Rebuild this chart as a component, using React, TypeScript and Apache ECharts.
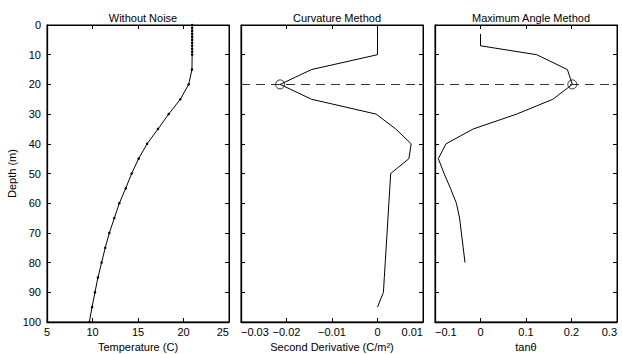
import React, { useEffect, useRef } from "react";
import * as echarts from "echarts";

const depth1 = [0, 1, 2, 3, 4, 5, 6, 7, 8, 9, 10, 15, 20, 25, 30, 35, 40, 45, 50, 55, 60, 65, 70, 75, 80, 85, 90, 95, 100];
const temperature = [20.95, 20.95, 20.95, 20.95, 20.95, 20.95, 20.95, 20.95, 20.95, 20.95, 20.95, 20.93, 20.57, 19.65, 18.37, 17.2, 16.0, 15.07, 14.3, 13.65, 12.95, 12.4, 11.85, 11.4, 11.0, 10.6, 10.27, 9.95, 9.65];

const depth2 = [0, 5, 10, 15, 20, 25, 30, 35, 40, 45, 50, 55, 60, 65, 70, 75, 80, 85, 90, 95];
const secondDeriv = [0, 0, 0, -0.0145, -0.0214, -0.0145, -0.0003, 0.004, 0.0074, 0.0069, 0.0029, 0.0027, 0.0025, 0.0023, 0.0021, 0.0019, 0.0017, 0.0015, 0.0013, 0.0];

const depth3 = [3, 7, 10, 15, 20, 25, 30, 35, 40, 45, 50, 55, 60, 65, 70, 75, 80];
const tanTheta = [0, 0, 0.1235, 0.191, 0.2018, 0.159, 0.0795, -0.0158, -0.0758, -0.0927, -0.08, -0.066, -0.053, -0.046, -0.042, -0.038, -0.034];

const mldDepth = 20;
const titles = ["Without Noise", "Curvature Method", "Maximum Angle Method"];
const xNames = ["Temperature (C)", "Second Derivative (C/m²)", "tanθ"];
const xRanges = [
  { min: 5, max: 25, interval: 5 },
  { min: -0.03, max: 0.01, interval: 0.01 },
  { min: -0.1, max: 0.3, interval: 0.1 },
];
const minAlign = ["center", "left", "left"];
const maxAlign = ["right", "right", "right"];

const FONT = "Liberation Sans, Arial, Helvetica, sans-serif";

const fmt = (v: number) => {
  const r = Math.round(v * 1000) / 1000;
  return String(r).replace("-", "\u2212");
};

export default function App() {
  const ref = useRef<HTMLDivElement>(null);
  useEffect(() => {
    if (!ref.current) return;
    const chart = echarts.init(ref.current, undefined, { renderer: "svg" });
    const grids = [
      { left: 47, right: 393, top: 25, bottom: 32 },
      { left: 241, right: 199, top: 25, bottom: 32 },
      { left: 435, right: 5, top: 25, bottom: 32 },
    ].map((g) => ({
      ...g,
      show: true,
      borderColor: "#000",
      borderWidth: 1,
      backgroundColor: "transparent",
      containLabel: false,
      outerBoundsMode: "none",
    }));
    const centers = [138, 332, 526];

    const xAxes: any[] = [];
    const yAxes: any[] = [];
    for (let i = 0; i < 3; i++) {
      xAxes.push({
        type: "value",
        gridIndex: i,
        position: "bottom",
        ...xRanges[i],
        name: xNames[i],
        nameLocation: "middle",
        nameGap: 17,
        nameTextStyle: { fontFamily: FONT, fontSize: 11, color: "#000" },
        axisLine: { show: true, onZero: false, lineStyle: { color: "#000", width: 1.3 } },
        axisTick: { show: true, inside: true, length: 4, lineStyle: { color: "#000" } },
        axisLabel: {
          show: true,
          showMinLabel: true,
          showMaxLabel: true,
          alignMinLabel: minAlign[i],
          alignMaxLabel: maxAlign[i],
          margin: 4,
          fontFamily: FONT,
          fontSize: 11,
          color: "#000",
          formatter: fmt,
        },
        splitLine: { show: false },
      });
    }
    for (let i = 0; i < 3; i++) {
      xAxes.push({
        type: "value",
        gridIndex: i,
        position: "top",
        ...xRanges[i],
        axisLine: { show: true, onZero: false, lineStyle: { color: "#000" } },
        axisTick: { show: true, inside: true, length: 4, lineStyle: { color: "#000" } },
        axisLabel: { show: false },
        splitLine: { show: false },
      });
    }
    for (let i = 0; i < 3; i++) {
      yAxes.push({
        type: "value",
        gridIndex: i,
        position: "left",
        inverse: true,
        min: 0,
        max: 100,
        interval: 10,
        name: i === 0 ? "Depth (m)" : "",
        nameLocation: "middle",
        nameGap: 30,
        nameRotate: 90,
        nameTextStyle: { fontFamily: FONT, fontSize: 11, color: "#000" },
        axisLine: { show: true, onZero: false, lineStyle: { color: "#000", width: 1.3 } },
        axisTick: { show: true, inside: true, length: 4, lineStyle: { color: "#000" } },
        axisLabel: { show: i === 0, margin: 6, fontFamily: FONT, fontSize: 11, color: "#000" },
        splitLine: { show: false },
      });
    }
    for (let i = 0; i < 3; i++) {
      yAxes.push({
        type: "value",
        gridIndex: i,
        position: "right",
        inverse: true,
        min: 0,
        max: 100,
        interval: 10,
        axisLine: { show: true, onZero: false, lineStyle: { color: "#000" } },
        axisTick: { show: true, inside: true, length: 4, lineStyle: { color: "#000" } },
        axisLabel: { show: false },
        splitLine: { show: false },
      });
    }

    const dashLine = {
      silent: true,
      symbol: "none",
      label: { show: false },
      lineStyle: { type: [9, 6], color: "#333", width: 1 },
      data: [{ yAxis: mldDepth }],
    };

    const i2 = depth2.indexOf(mldDepth);
    const i3 = depth3.indexOf(mldDepth);

    chart.setOption({
      animation: false,
      title: titles.map((t, i) => ({
        text: t,
        left: centers[i],
        top: 7,
        textAlign: "center",
        textStyle: { fontFamily: FONT, fontSize: 11, fontWeight: "normal", color: "#000" },
      })),
      grid: grids,
      xAxis: xAxes,
      yAxis: yAxes,
      series: [
        {
          type: "line",
          xAxisIndex: 0,
          yAxisIndex: 0,
          data: depth1.map((d, k) => [temperature[k], d]),
          symbol: "circle",
          symbolSize: 2.5,
          showSymbol: true,
          itemStyle: { color: "#000" },
          lineStyle: { color: "#000", width: 1 },
        },
        {
          type: "line",
          xAxisIndex: 1,
          yAxisIndex: 1,
          data: depth2.map((d, k) => [secondDeriv[k], d]),
          showSymbol: false,
          symbol: "none",
          lineStyle: { color: "#000", width: 1 },
          markLine: dashLine,
        },
        {
          type: "scatter",
          xAxisIndex: 1,
          yAxisIndex: 1,
          data: [[secondDeriv[i2], depth2[i2]]],
          symbol: "circle",
          symbolSize: 9,
          itemStyle: { color: "transparent", borderColor: "#000", borderWidth: 1 },
          z: 5,
        },
        {
          type: "line",
          xAxisIndex: 2,
          yAxisIndex: 2,
          data: depth3.map((d, k) => [tanTheta[k], d]),
          showSymbol: false,
          symbol: "none",
          lineStyle: { color: "#000", width: 1 },
          markLine: dashLine,
        },
        {
          type: "scatter",
          xAxisIndex: 2,
          yAxisIndex: 2,
          data: [[tanTheta[i3], depth3[i3]]],
          symbol: "circle",
          symbolSize: 9,
          itemStyle: { color: "transparent", borderColor: "#000", borderWidth: 1 },
          z: 5,
        },
      ],
    });
    return () => chart.dispose();
  }, []);
  return <div ref={ref} style={{ position: "fixed", left: 0, top: 0, width: 622, height: 354, background: "#fff" }} />;
}
